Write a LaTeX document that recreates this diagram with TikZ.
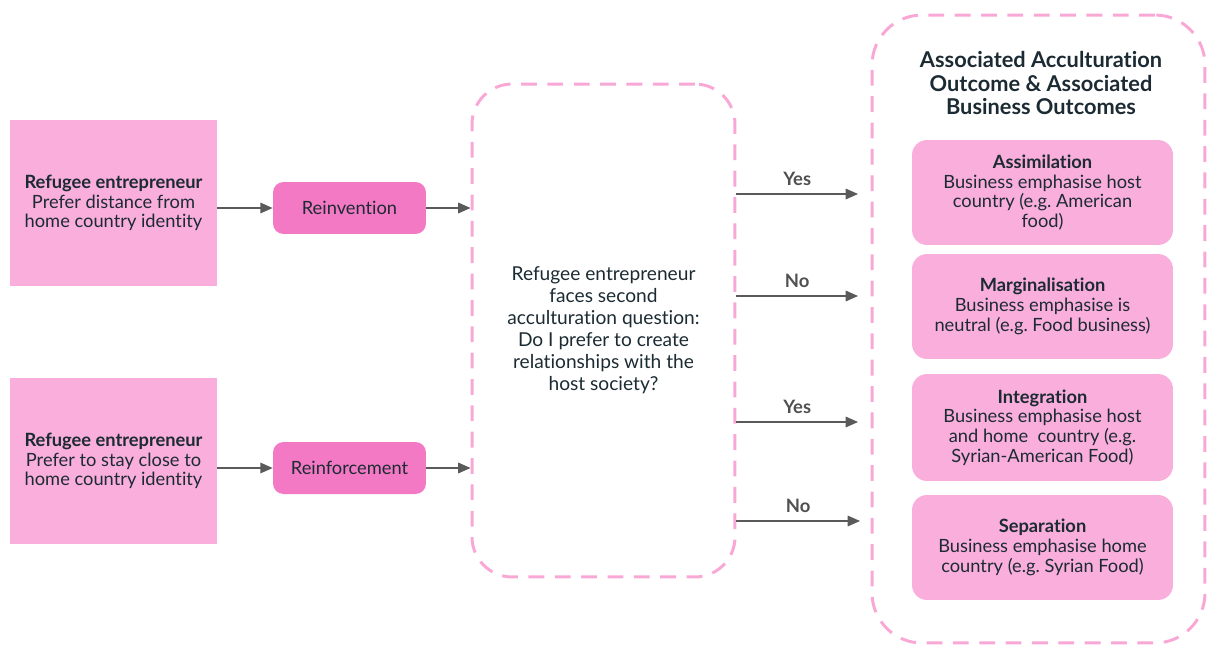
\documentclass[tikz,border=0pt]{standalone}
\usepackage{fontspec}
\setmainfont{Lato}[Ligatures={NoCommon}]
\frenchspacing
\usetikzlibrary{positioning,arrows.meta}
\definecolor{lightpink}{RGB}{250,174,220}
\definecolor{darkpink}{RGB}{244,121,196}
\definecolor{dashpink}{RGB}{249,168,214}
\definecolor{inkgrey}{RGB}{28,43,51}
\definecolor{arrowgrey}{RGB}{90,90,90}
\definecolor{labelgrey}{RGB}{80,80,80}
\begin{document}
\begin{tikzpicture}[x=0.02cm,y=-0.02cm,
	every node/.style={text=inkgrey, font=\fontsize{10.4}{11.2}\selectfont, align=center},
	refbox/.style={fill=lightpink, minimum width=4.14cm, minimum height=3.34cm},
	stagebox/.style={fill=darkpink, rounded corners=6pt, minimum width=3.06cm, minimum height=1.04cm},
	outbox/.style={fill=lightpink, rounded corners=0.3cm, minimum width=5.22cm, minimum height=2.1cm},
	dashbox/.style={draw=dashpink, line width=1.7pt, dash pattern=on 9pt off 6pt},
	flow/.style={draw=arrowgrey, line width=0.8pt, -{Triangle[length=7pt,width=6pt]}},
	answer/.style={font=\fontsize{10.5}{12}\selectfont\bfseries, text=labelgrey}]
		\useasboundingbox (0,0) rectangle (1207,646);
		
		%Entrepreneurs
		\node [refbox] (refdist) at (113.5,203) {\textbf{Refugee entrepreneur}\\Prefer distance from\\home country identity};
		\node [refbox] (refclose) at (113.5,461) {\textbf{Refugee entrepreneur}\\Prefer to stay close to\\home country identity};
		
		%Strategies
		\node [stagebox] (reinv) at (349.5,208) {Reinvention};
		\node [stagebox] (reinf) at (349.5,468) {Reinforcement};
		
		%Question
		\node [dashbox, rounded corners=0.8cm, minimum width=5.26cm, minimum height=9.86cm, font=\fontsize{10.9}{12.5}\selectfont] (quest) at (603.5,330.5)
			{Refugee entrepreneur\\faces second\\acculturation question:\\Do I prefer to create\\relationships with the\\host society?};
		
		%Outcomes
		\node [dashbox, rounded corners=1cm, minimum width=6.66cm, minimum height=12.56cm] (outer) at (1038.5,329) {};
		\node [font=\fontsize{12.4}{13.6}\selectfont\bfseries] (title) at (1041,83) {Associated Acculturation\\Outcome \& Associated\\Business Outcomes};
		\node [outbox] (assim) at (1042.5,192.5) {\textbf{Assimilation}\\Business emphasise host\\country (e.g. American\\food)};
		\node [outbox] (marg) at (1042.5,306.5) {\textbf{Marginalisation}\\Business emphasise is\\neutral (e.g. Food business)};
		\node [outbox, minimum height=2.14cm] (integ) at (1042.5,427.5) {\textbf{Integration}\\Business emphasise host\\and home\ \ country (e.g.\\Syrian-American Food)};
		\node [outbox] (separ) at (1042.5,547.5) {\textbf{Separation}\\Business emphasise home\\country (e.g. Syrian Food)};
		
		%Arrow ends
		\coordinate (yesa) at (858,194);
		\coordinate (noa) at (858,296);
		\coordinate (yesb) at (858,422);
		\coordinate (nob) at (860,521);
		
		\draw [flow] (refdist.east |- reinv) -- (reinv);
		\draw [flow] (refclose.east |- reinf) -- (reinf);
		\draw [flow] (reinv) -- (reinv -| quest.west);
		\draw [flow] (reinf) -- (reinf -| quest.west);
		
		\draw [flow] (quest.east |- yesa) -- node[answer, above=1pt]{Yes} (yesa);
		\draw [flow] (quest.east |- noa) -- node[answer, above=1pt]{No} (noa);
		\draw [flow] (quest.east |- yesb) -- node[answer, above=1pt]{Yes} (yesb);
		\draw [flow] (quest.east |- nob) -- node[answer, above=1pt]{No} (nob);
\end{tikzpicture}
\end{document}
